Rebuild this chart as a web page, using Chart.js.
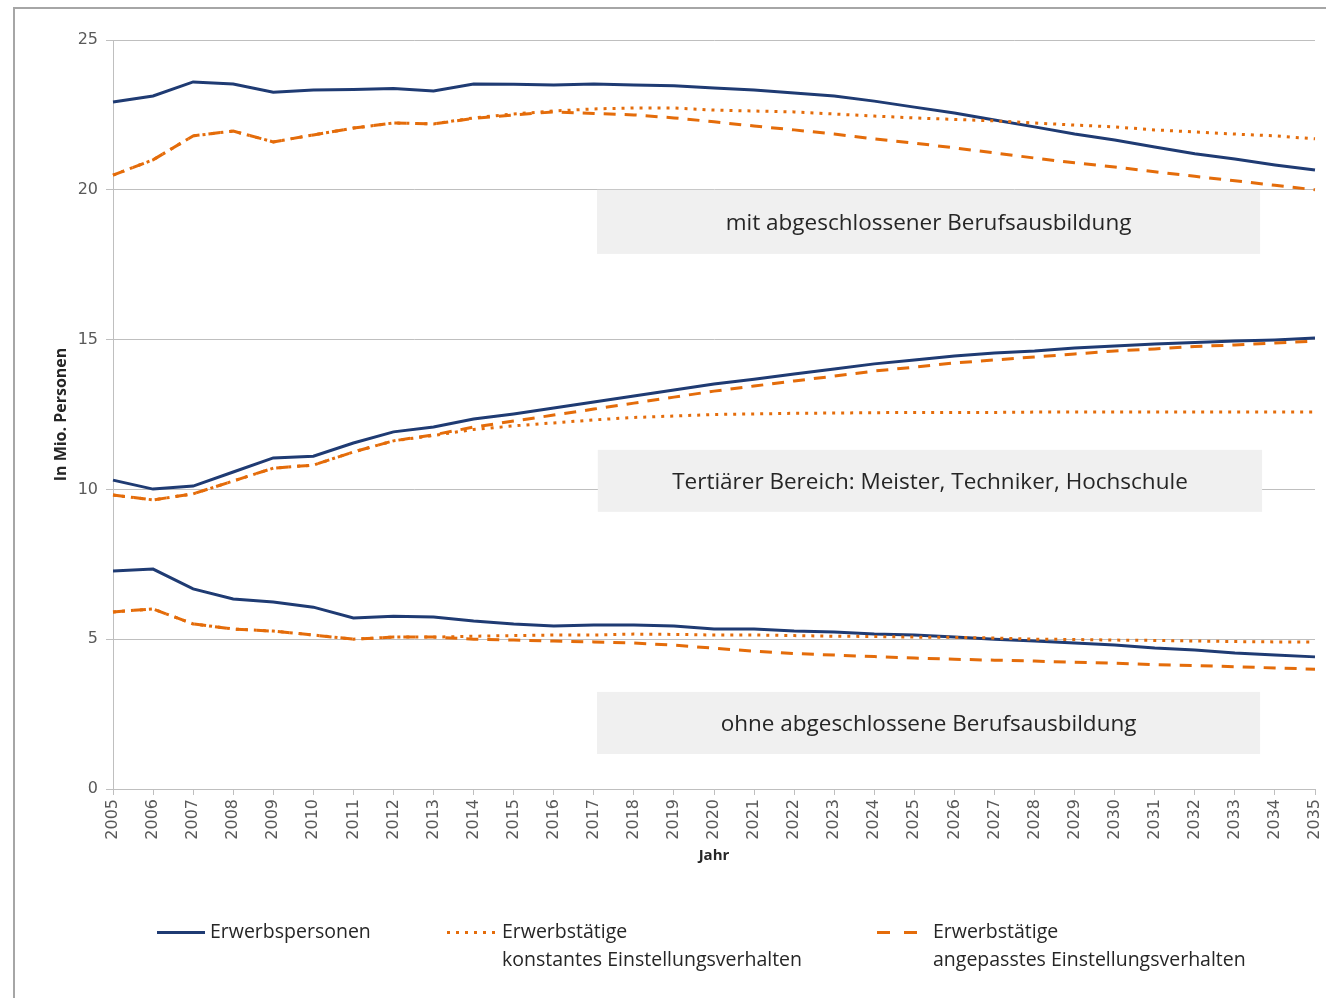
<!DOCTYPE html>
<html lang="de">
<head>
<meta charset="utf-8">
<script src="https://cdn.jsdelivr.net/npm/chart.js@4.4.1/dist/chart.umd.min.js"></script>
<style>
  html, body { margin: 0; padding: 0; background: #fff; }
  #wrap { position: relative; width: 1326px; height: 998px; overflow: hidden; }
  #frame { position: absolute; left: 13px; top: 7px; width: 1400px; height: 1100px;
           border-top: 2px solid #a6a6a6; border-left: 2px solid #a6a6a6; }
  #chart { position: absolute; left: 0; top: 0; }
  .legend-item { position: absolute; font-family: "Open Sans", sans-serif; font-size: 19.5px;
                 color: #262626; line-height: 28px; white-space: nowrap; }
  .sample { position: absolute; height: 3px; }
</style>
</head>
<body>
<div id="wrap">
  <div id="frame"></div>
  <canvas id="chart" width="1326" height="998"></canvas>

  <div class="sample" style="left:157px; top:931px; width:48px; background:#1f3b73;"></div>
  <div class="legend-item" style="left:210px; top:917px;">Erwerbspersonen</div>

  <div class="sample" style="left:447px; top:931px; width:48px;
       background:repeating-linear-gradient(to right, #e46c0a 0 3px, transparent 3px 9px);"></div>
  <div class="legend-item" style="left:502px; top:917px;">Erwerbstätige<br>konstantes Einstellungsverhalten</div>

  <div class="sample" style="left:877px; top:931px; width:40px;
       background:repeating-linear-gradient(to right, #e46c0a 0 13px, transparent 13px 27px);"></div>
  <div class="legend-item" style="left:933px; top:917px;">Erwerbstätige<br>angepasstes Einstellungsverhalten</div>
</div>

<script>
// Jahre auf der x-Achse
const years = ['2005','2006','2007','2008','2009','2010','2011','2012','2013','2014','2015',
               '2016','2017','2018','2019','2020','2021','2022','2023','2024','2025',
               '2026','2027','2028','2029','2030','2031','2032','2033','2034','2035'];

// mit abgeschlossener Berufsausbildung (Mio. Personen)
const mitErwerbspersonen = [22.93,23.13,23.6,23.53,23.26,23.33,23.35,23.38,23.3,23.53,23.52,
                            23.5,23.53,23.5,23.47,23.4,23.33,23.23,23.13,22.96,22.76,
                            22.56,22.33,22.1,21.86,21.66,21.43,21.2,21.03,20.83,20.66];
const mitKonstant = [20.49,21.0,21.8,21.96,21.6,21.83,22.06,22.23,22.2,22.4,22.53,
                     22.63,22.7,22.73,22.73,22.66,22.63,22.6,22.53,22.46,22.4,
                     22.35,22.3,22.23,22.16,22.1,22.0,21.93,21.86,21.8,21.7];
const mitAngepasst = [20.49,21.0,21.8,21.96,21.6,21.83,22.06,22.23,22.2,22.38,22.5,
                      22.6,22.55,22.5,22.4,22.27,22.13,22.0,21.86,21.7,21.56,
                      21.4,21.23,21.06,20.9,20.76,20.6,20.45,20.3,20.15,20.0];

// Tertiärer Bereich
const tertErwerbspersonen = [10.31,10.01,10.11,10.58,11.05,11.11,11.55,11.92,12.08,12.35,12.52,
                             12.72,12.92,13.12,13.32,13.52,13.68,13.85,14.02,14.19,14.32,
                             14.45,14.55,14.62,14.72,14.79,14.85,14.9,14.95,14.99,15.05];
const tertKonstant = [9.81,9.65,9.85,10.28,10.71,10.81,11.25,11.62,11.8,12.0,12.12,
                      12.22,12.32,12.4,12.45,12.5,12.52,12.54,12.55,12.56,12.57,
                      12.57,12.57,12.58,12.58,12.58,12.58,12.58,12.58,12.58,12.58];
const tertAngepasst = [9.81,9.65,9.85,10.28,10.71,10.81,11.25,11.62,11.82,12.08,12.28,
                       12.48,12.68,12.88,13.08,13.28,13.45,13.62,13.78,13.95,14.08,
                       14.22,14.32,14.42,14.52,14.62,14.69,14.77,14.82,14.89,14.95];

// ohne abgeschlossene Berufsausbildung
const ohneErwerbspersonen = [7.28,7.34,6.68,6.34,6.24,6.07,5.71,5.77,5.74,5.61,5.51,
                             5.44,5.47,5.47,5.44,5.34,5.34,5.27,5.24,5.17,5.14,
                             5.07,5.0,4.94,4.87,4.81,4.71,4.64,4.54,4.47,4.41];
const ohneKonstant = [5.91,6.01,5.51,5.34,5.27,5.14,5.0,5.07,5.07,5.1,5.12,
                      5.14,5.14,5.17,5.16,5.14,5.14,5.12,5.1,5.09,5.07,
                      5.06,5.04,5.0,4.99,4.97,4.96,4.94,4.92,4.91,4.91];
const ohneAngepasst = [5.91,6.01,5.51,5.34,5.27,5.14,5.0,5.07,5.07,5.0,4.97,
                       4.94,4.91,4.87,4.8,4.7,4.6,4.52,4.47,4.42,4.37,
                       4.33,4.3,4.27,4.23,4.2,4.15,4.12,4.08,4.04,4.0];

const groupLabels = ['mit abgeschlossener Berufsausbildung',
                     'Tertiärer Bereich: Meister, Techniker, Hochschule',
                     'ohne abgeschlossene Berufsausbildung'];

const BLUE = '#1f3b73';
const ORANGE = '#e46c0a';

// Beschriftungsfelder (Lage in Achsenwerten: x = Jahresindex, y = Mio.)
const labelBoxes = [
  { from: 12.08, to: 28.63, top: 20.0, bottom: 17.86, text: groupLabels[0] },
  { from: 12.1, to: 28.68, top: 11.32, bottom: 9.25, text: groupLabels[1] },
  { from: 12.08, to: 28.63, top: 3.24, bottom: 1.17, text: groupLabels[2] }
];

function solid(data) {
  return { data, borderColor: BLUE, borderWidth: 3, order: 3 };
}
function dotted(data) {
  return { data, borderColor: ORANGE, borderWidth: 3, borderDash: [3, 6], order: 1 };
}
function dashed(data) {
  return { data, borderColor: ORANGE, borderWidth: 3, borderDash: [12, 9], order: 2 };
}

const datasets = [
  solid(mitErwerbspersonen), dotted(mitKonstant), dashed(mitAngepasst),
  solid(tertErwerbspersonen), dotted(tertKonstant), dashed(tertAngepasst),
  solid(ohneErwerbspersonen), dotted(ohneKonstant), dashed(ohneAngepasst)
];

// graue Felder mit Gruppennamen, unter den Linien
const boxPlugin = {
  id: 'gruppenFelder',
  beforeDatasetsDraw(chart) {
    const { ctx, scales: { x, y } } = chart;
    ctx.save();
    labelBoxes.forEach(b => {
      const left = x.getPixelForValue(b.from);
      const right = x.getPixelForValue(b.to);
      const top = y.getPixelForValue(b.top);
      const bottom = y.getPixelForValue(b.bottom);
      ctx.fillStyle = '#f0f0f0';
      ctx.fillRect(left, top, right - left, bottom - top);
      ctx.fillStyle = '#262626';
      ctx.font = '22.5px "Open Sans"';
      ctx.textAlign = 'center';
      ctx.textBaseline = 'middle';
      ctx.fillText(b.text, (left + right) / 2, (top + bottom) / 2 + 2);
    });
    ctx.restore();
  }
};

const ctx = document.getElementById('chart').getContext('2d');
new Chart(ctx, {
  type: 'line',
  data: { labels: years, datasets },
  options: {
    responsive: false,
    animation: false,
    layout: { padding: { left: 43, top: 40, right: 11, bottom: 133 } },
    elements: {
      point: { radius: 0 },
      line: { tension: 0, borderCapStyle: 'butt', fill: false }
    },
    plugins: { legend: { display: false }, tooltip: { enabled: false } },
    scales: {
      x: {
        offset: false,
        grid: { drawOnChartArea: false, color: '#bfbfbf', tickLength: 6 },
        border: { color: '#bfbfbf' },
        ticks: {
          autoSkip: false, maxRotation: 90, minRotation: 90, padding: 4,
          color: '#595959', font: { family: 'DejaVu Sans', size: 16 }
        },
        title: {
          display: true, text: 'Jahr', color: '#262626', padding: 0,
          font: { family: 'Open Sans', size: 15, weight: 'bold' }
        },
        afterFit(scale) {
          scale.height = 76;
          scale.paddingLeft = 0;
          scale.paddingRight = 0;
        }
      },
      y: {
        min: 0, max: 25,
        grid: { color: '#bfbfbf', tickLength: 7 },
        border: { color: '#bfbfbf' },
        ticks: {
          stepSize: 5, padding: 8,
          color: '#595959', font: { family: 'DejaVu Sans', size: 16 }
        },
        title: {
          display: true, text: 'In Mio. Personen', color: '#262626',
          padding: { top: 9, bottom: 0 },
          font: { family: 'Open Sans', size: 16, weight: 'bold' }
        },
        afterFit(scale) { scale.width = 70; }
      }
    }
  },
  plugins: [boxPlugin]
});
</script>
</body>
</html>
